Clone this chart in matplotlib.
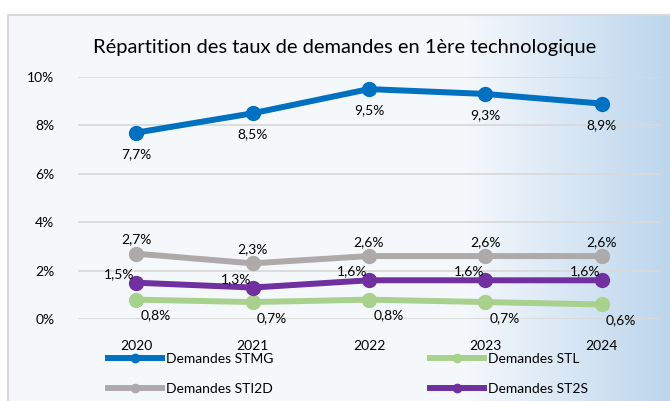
import numpy as np
import matplotlib.pyplot as plt
from matplotlib.ticker import FuncFormatter

plt.rcParams['font.family'] = ['Lato', 'DejaVu Sans']

years = ['2020', '2021', '2022', '2023', '2024']
stmg = [7.7, 8.5, 9.5, 9.3, 8.9]
stl = [0.8, 0.7, 0.8, 0.7, 0.6]
sti2d = [2.7, 2.3, 2.6, 2.6, 2.6]
st2s = [1.5, 1.3, 1.6, 1.6, 1.6]

fig = plt.figure(figsize=(6.7, 4.01), dpi=100)

# background: pale blue panel with gradient to the right, white margin top/left
bg = fig.add_axes([0, 0, 1, 1])
bg.set_xlim(0, 670)
bg.set_ylim(401, 0)
bg.axis('off')
w = np.linspace(0, 1, 670)
t = np.clip((w - 0.69) / 0.31, 0, 1)
c0 = np.array([0.961, 0.973, 0.988])
c1 = np.array([0.74, 0.84, 0.93])
grad = c0[None, :] * (1 - t[:, None]) + c1[None, :] * t[:, None]
img = np.tile(grad[None, :, :], (401, 1, 1))
bg.imshow(img, extent=[8, 670, 401, 15], aspect='auto', zorder=0)
bg.plot([8, 8, 670], [401, 15, 15], color='#D9D9D9', lw=1.5, zorder=1)

ax = fig.add_axes([78/670, 1-319/401, 582/670, 242/401])
ax.patch.set_alpha(0)
x = np.arange(len(years))

ax.plot(x, stmg, color='#0070C0', lw=4.3, marker='o', ms=10, label='Demandes STMG', zorder=5)
ax.plot(x, stl, color='#A9D18E', lw=4.3, marker='o', ms=10, label='Demandes STL', zorder=3)
ax.plot(x, sti2d, color='#AEAAAA', lw=4.3, marker='o', ms=10, label='Demandes STI2D', zorder=3)
ax.plot(x, st2s, color='#7030A0', lw=4.3, marker='o', ms=10, label='Demandes ST2S', zorder=4)

def fr(v):
    return ('%.1f%%' % v).replace('.', ',')

for i in range(len(years)):
    ax.annotate(fr(stmg[i]), (x[i], stmg[i]), xytext=(0, -11), textcoords='offset points',
                ha='center', va='top', fontsize=10, zorder=6)
    ax.annotate(fr(sti2d[i]), (x[i], sti2d[i]), xytext=(0, 6), textcoords='offset points',
                ha='center', va='bottom', fontsize=10, zorder=6)
    ax.annotate(fr(st2s[i]), (x[i], st2s[i]), xytext=(-12, 2), textcoords='offset points',
                ha='center', va='bottom', fontsize=10, zorder=6)
    ax.annotate(fr(stl[i]), (x[i], stl[i]), xytext=(14, -7), textcoords='offset points',
                ha='center', va='top', fontsize=10, zorder=6)

ax.set_xlim(-0.5, 4.5)
ax.set_ylim(0, 10)
ax.set_yticks([0, 2, 4, 6, 8, 10])
ax.yaxis.set_major_formatter(FuncFormatter(lambda v, p: '%d%%' % v))
ax.set_xticks(x)
ax.set_xticklabels(years)
ax.tick_params(length=0, labelsize=10, colors='#000000')
ax.tick_params(axis='x', pad=15)
ax.tick_params(axis='y', pad=17)
ax.grid(axis='y', color='#D9D9D9', lw=1.3)
ax.set_axisbelow(True)
for s in ax.spines.values():
    s.set_visible(False)

fig.text(345/670, 1-48/401, 'Répartition des taux de demandes en 1ère technologique',
         ha='center', va='center', fontsize=14.5)

h, l = ax.get_legend_handles_labels()
order = [0, 2, 1, 3]
fig.legend([h[i] for i in order], [l[i] for i in order], ncol=2, frameon=False,
           loc='center', bbox_to_anchor=(348/670, 1-374/401), fontsize=10,
           handlelength=3.9, columnspacing=11.3, handletextpad=0.3, labelspacing=1.25,
           markerscale=0.6)

fig.savefig('out.png', dpi=100)
